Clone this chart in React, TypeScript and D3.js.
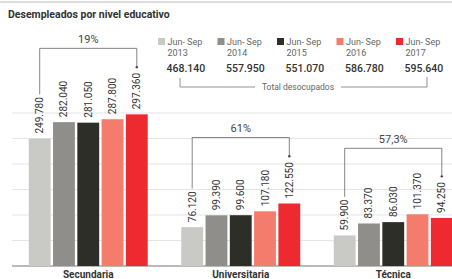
import React from 'react';
import * as d3 from 'd3';

// niveles educativos
const categories = ['Secundaria', 'Universitaria', 'Técnica'];
const periods = ['2013', '2014', '2015', '2016', '2017'];
const seriesColors = ['#c9c9c6', '#8f8e8b', '#2e2e28', '#f47c6c', '#ee2a30'];

// desempleados por nivel y periodo (jun-sep)
const secundaria = [249780, 282040, 281050, 287800, 297360];
const universitaria = [76120, 99390, 99600, 107180, 122550];
const tecnica = [59900, 83370, 86030, 101370, 94250];
const values = [secundaria, universitaria, tecnica];

const variation = ['19%', '61%', '57,3%'];
const totals = [468140, 557950, 551070, 586780, 595640];
const yTicks = [0, 50000, 100000, 150000, 200000, 250000, 300000];

const W = 452;
const H = 279;
const font = 'Roboto, "Noto Sans", sans-serif';

const fmt = (v: number) => d3.format(',')(v).replace(/,/g, '.');

const App = () => {
  const y = d3.scaleLinear().domain([0, 300000]).range([266, 113]);
  const x0 = d3.scaleBand<string>().domain(categories).range([12, 469.5]).paddingInner(0.22).paddingOuter(0.11);
  const x1 = d3.scaleBand<string>().domain(periods).range([0, x0.bandwidth()]).paddingInner(0.1);

  const labelLen = (v: number) => {
    const s = fmt(v);
    return (s.length - 1) * 5.6 + 2.6;
  };
  const labelTop = (v: number) => y(v) - 5 - labelLen(v);

  const legendX = (i: number) => 158 + i * 59.5;

  return (
    <svg width={W} height={H} style={{ position: 'absolute', left: 0, top: 0, background: '#fff' }} fontFamily={font}>
      <line x1={0} x2={W} y1={2} y2={2} stroke="#bbb" strokeWidth={1} />
      <text x={8} y={18} fontSize={10.5} fontWeight="bold" fill="#333">Desempleados por nivel educativo</text>

      {/* grid */}
      {yTicks.map((t) => (
        <line key={t} x1={12} x2={W} y1={y(t)} y2={y(t)} stroke={t === 0 ? '#777' : '#dedede'} strokeWidth={t === 0 ? 1 : 0.8} />
      ))}

      {/* legend */}
      {periods.map((p, i) => (
        <g key={p}>
          <rect x={legendX(i)} y={38} width={7} height={7} fill={seriesColors[i]} />
          <text x={legendX(i) + 9.5} y={45} fontSize={9} fill="#666">Jun- Sep</text>
          <text x={legendX(i) + 9.5} y={56} fontSize={9} fill="#666">{p}</text>
          <text x={legendX(i) + 8.5} y={72} fontSize={10.5} fontWeight={500} fill="#333">{fmt(totals[i])}</text>
        </g>
      ))}
      <path d="M180,78V87H255" fill="none" stroke="#777" strokeWidth={0.8} />
      <path d="M341,87H427V77" fill="none" stroke="#777" strokeWidth={0.8} />
      <text x={298} y={90} fontSize={8.5} fill="#666" textAnchor="middle">Total desocupados</text>

      {/* bars */}
      {categories.map((c, ci) => {
        const vals = values[ci];
        const gx = x0(c) || 0;
        const cx = (i: number) => gx + (x1(periods[i]) || 0) + x1.bandwidth() / 2;
        const top = y(d3.max(vals) || 0) - 66;
        const leftEnd = labelTop(vals[0]) - 3;
        const rightEnd = labelTop(vals[vals.length - 1]) - 6;
        return (
          <g key={c}>
            {vals.map((v, i) => (
              <g key={i}>
                <rect x={gx + (x1(periods[i]) || 0)} y={y(v)} width={x1.bandwidth()} height={y(0) - y(v)} fill={seriesColors[i]} />
                <text transform={`translate(${cx(i) + 3.5},${y(v) - 5}) rotate(-90)`} fontSize={10} fill="#333">{fmt(v)}</text>
              </g>
            ))}
            <path d={`M${cx(0)},${leftEnd}V${top}H${cx(4)}V${rightEnd}`} fill="none" stroke="#666" strokeWidth={0.8} />
            <circle cx={cx(4)} cy={rightEnd} r={1.2} fill="#444" />
            <text x={gx + x0.bandwidth() / 2} y={top - 5} fontSize={11} fill="#444" textAnchor="middle">{variation[ci]}</text>
            <text x={gx + x0.bandwidth() / 2} y={278} fontSize={10} fontWeight="bold" fill="#333" textAnchor="middle">{c}</text>
          </g>
        );
      })}
    </svg>
  );
};

export default App;
